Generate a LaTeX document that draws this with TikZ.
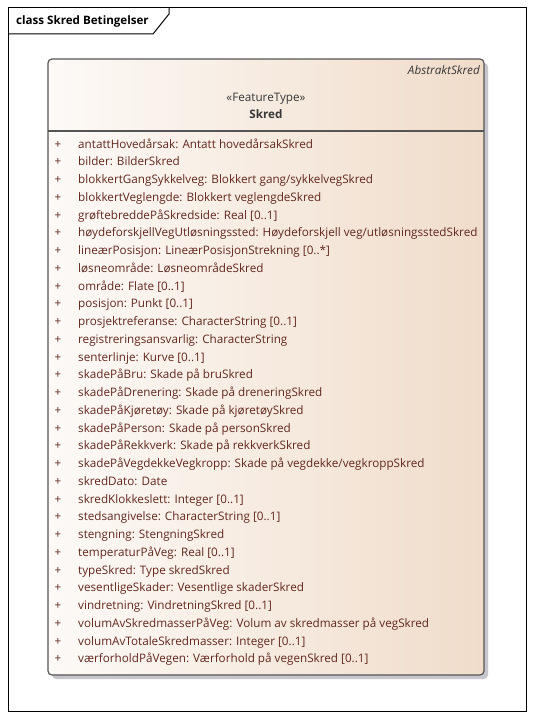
\documentclass[tikz,border=0pt]{standalone}
\usepackage{fontspec}
\setmainfont{Open Sans}
\definecolor{attrtxt}{RGB}{98,40,30}
\definecolor{hdrtxt}{RGB}{55,55,55}
\definecolor{boxline}{RGB}{85,85,85}
\definecolor{gradL}{RGB}{253,250,247}
\definecolor{gradR}{RGB}{240,220,202}
\definecolor{shadowc}{RGB}{198,198,204}
\tikzset{
  attr/.style={anchor=west, inner sep=0pt, text height=8.5pt, text depth=2.4pt, font=\fontsize{11.7}{14}\selectfont, text=attrtxt},
  plus/.style={anchor=center, inner sep=0pt, text height=8.5pt, text depth=2.4pt, font=\fontsize{11.7}{14}\selectfont, text=attrtxt},
  hdr/.style={inner sep=0pt, text height=8.5pt, text depth=2.4pt, font=\fontsize{11.7}{14}\selectfont, text=hdrtxt},
}
\begin{document}
\begin{tikzpicture}[x=1pt,y=-1pt]
\useasboundingbox (0,0) rectangle (534,719);
\fill[white] (0,0) rectangle (534,719);
% frame
\draw[black, line width=1pt] (8,8) rectangle (526,711);
\draw[black, line width=1pt] (8,34) -- (153,34) -- (169,14) -- (169,8);
\node[anchor=west, inner sep=0pt, text height=8.5pt, text depth=2.4pt, font=\fontsize{11.6}{14}\selectfont\bfseries] (title) at (16,21) {class Skred Betingelser};
% shadow
\fill[shadowc, rounded corners=4pt] (52,63) rectangle (488,679);
% class box
\shade[left color=gradL, right color=gradR, rounded corners=4pt] (48,59) rectangle (484,675);
\draw[boxline, line width=1.2pt, rounded corners=4pt] (48,59) rectangle (484,675);
\draw[boxline, line width=1.2pt] (48,131) -- (484,131);
\node[hdr, anchor=east, font=\fontsize{11.7}{14}\selectfont\itshape] (parent) at (480,71) {AbstraktSkred};
\node[hdr] (stereo) at (266,98) {«FeatureType»};
\node[hdr, font=\fontsize{11.7}{14}\selectfont\bfseries] (cname) at (266,115) {Skred};
% attributes
\foreach \i/\t in {
0/{antattHovedårsak: Antatt hovedårsakSkred},
1/{bilder: BilderSkred},
2/{blokkertGangSykkelveg: Blokkert gang/sykkelvegSkred},
3/{blokkertVeglengde: Blokkert veglengdeSkred},
4/{grøftebreddePåSkredside: Real [0..1]},
5/{høydeforskjellVegUtløsningssted: Høydeforskjell veg/utløsningsstedSkred},
6/{lineærPosisjon: LineærPosisjonStrekning [0..*]},
7/{løsneområde: LøsneområdeSkred},
8/{område: Flate [0..1]},
9/{posisjon: Punkt [0..1]},
10/{prosjektreferanse: CharacterString [0..1]},
11/{registreringsansvarlig: CharacterString},
12/{senterlinje: Kurve [0..1]},
13/{skadePåBru: Skade på bruSkred},
14/{skadePåDrenering: Skade på dreneringSkred},
15/{skadePåKjøretøy: Skade på kjøretøySkred},
16/{skadePåPerson: Skade på personSkred},
17/{skadePåRekkverk: Skade på rekkverkSkred},
18/{skadePåVegdekkeVegkropp: Skade på vegdekke/vegkroppSkred},
19/{skredDato: Date},
20/{skredKlokkeslett: Integer [0..1]},
21/{stedsangivelse: CharacterString [0..1]},
22/{stengning: StengningSkred},
23/{temperaturPåVeg: Real [0..1]},
24/{typeSkred: Type skredSkred},
25/{vesentligeSkader: Vesentlige skaderSkred},
26/{vindretning: VindretningSkred [0..1]},
27/{volumAvSkredmasserPåVeg: Volum av skredmasser på vegSkred},
28/{volumAvTotaleSkredmasser: Integer [0..1]},
29/{værforholdPåVegen: Værforhold på vegenSkred [0..1]}}
{
  \node[plus] (p\i) at (58,145+17.75*\i) {+};
  \node[attr] (a\i) at (78,145+17.75*\i) {\t};
}
\end{tikzpicture}
\end{document}
